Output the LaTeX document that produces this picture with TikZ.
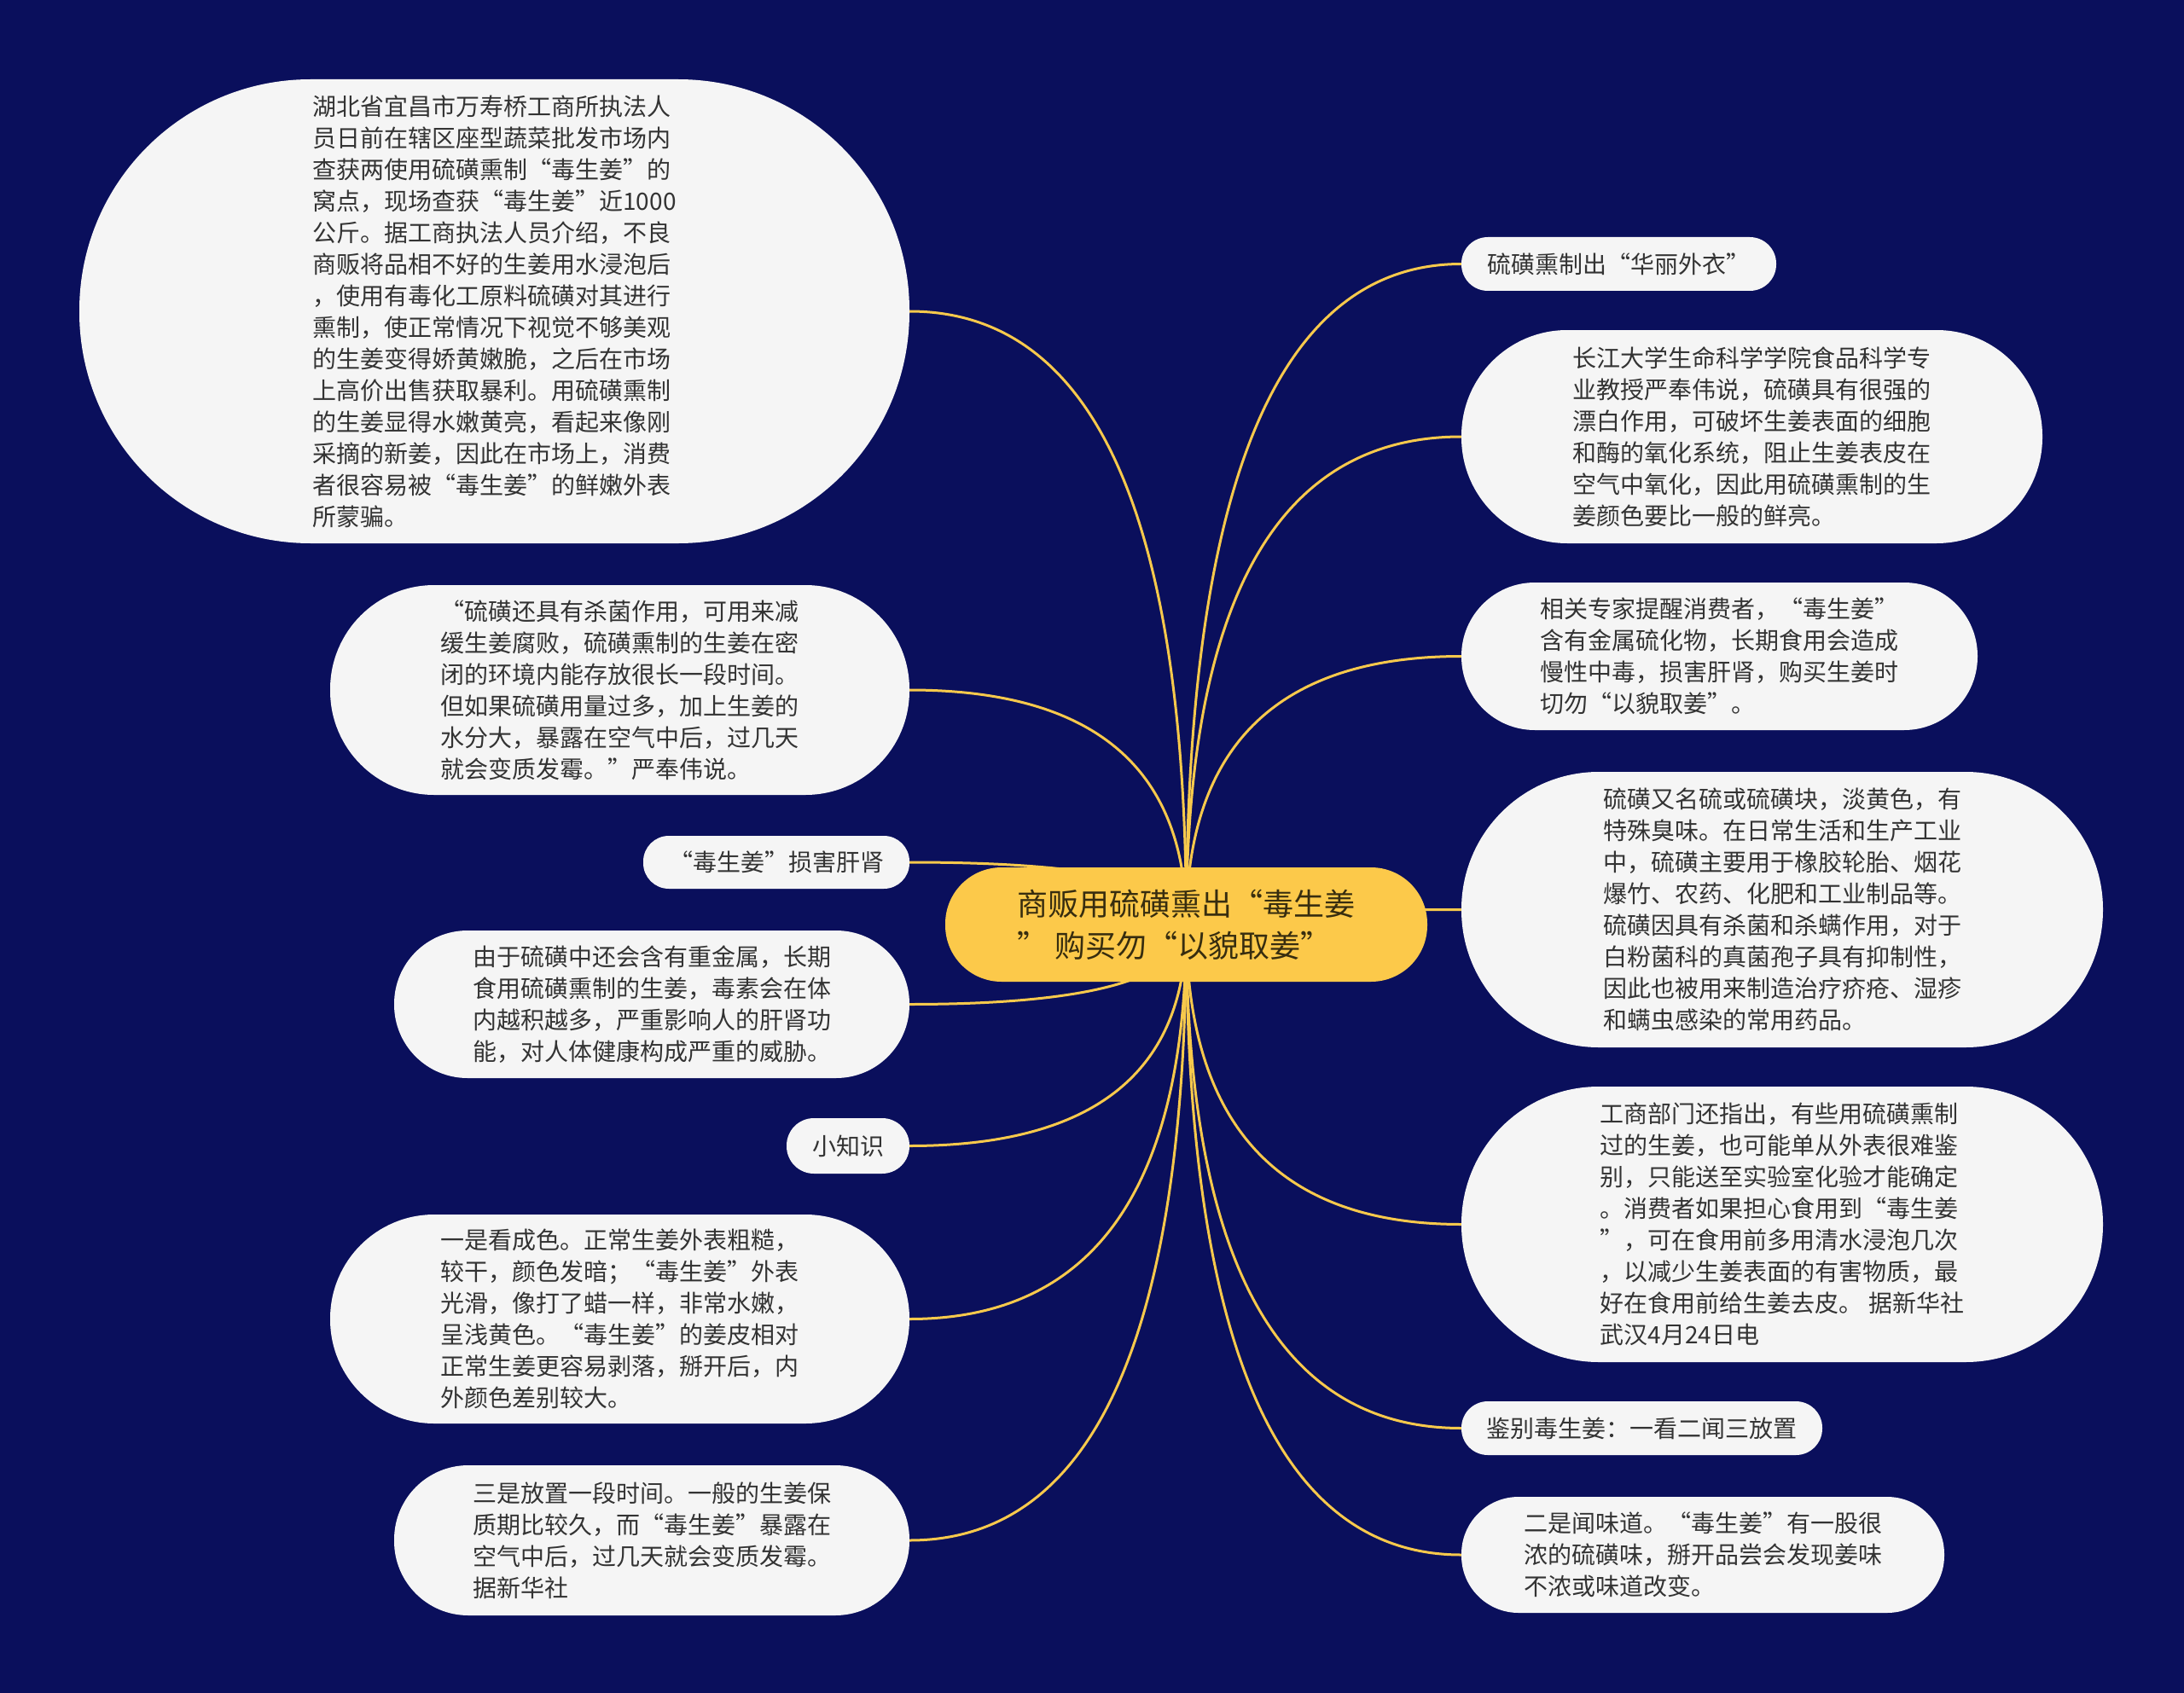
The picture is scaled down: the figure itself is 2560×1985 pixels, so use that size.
\documentclass[tikz,border=0pt]{standalone}
\usepackage{fontspec}
\setmainfont{Noto Sans CJK SC}
\usetikzlibrary{calc}
\pgfdeclarelayer{back}
\pgfdeclarelayer{conn}
\pgfsetlayers{back,conn,main}
\definecolor{bgnavy}{RGB}{10,15,92}
\definecolor{hubfill}{RGB}{252,201,74}
\definecolor{linkcol}{RGB}{247,201,76}
\definecolor{bubfill}{RGB}{245,245,245}
\definecolor{txtcol}{RGB}{51,51,51}
\definecolor{hubtxt}{RGB}{55,45,15}
\tikzset{
  bub/.style={fill=bubfill, text=txtcol, align=left, inner sep=0pt,
    font=\fontsize{28}{37}\selectfont},
  hub/.style={fill=hubfill, text=hubtxt, align=left, inner sep=0pt,
    font=\fontsize{36}{49}\selectfont},
  mmline/.style={draw=linkcol, line width=3pt}
}
\newcommand\mmlink[2]{%
  \coordinate (mmk) at (#1.center |- #2);
  \draw[mmline] (#1.center) .. controls ($(#1.center)!0.667!(mmk)$) and ($(#2)!0.667!(mmk)$) .. (#2);}
\begin{document}
\begin{tikzpicture}[x=1pt,y=-1pt]
\useasboundingbox (0,0) rectangle (2560,1985);
\begin{pgfonlayer}{back}
\fill[bgnavy] (0,0) rectangle (2560,1985);
\end{pgfonlayer}

% centre
\node[hub, minimum width=565pt, minimum height=134pt, rounded corners=66pt] (C) at (1390.5,1084)
 {商贩用硫磺熏出“毒生姜\\” 购买勿“以貌取姜”};

% left
\node[bub, minimum width=973pt, minimum height=544pt, rounded corners=271pt] (L1) at (579.5,365)
 {湖北省宜昌市万寿桥工商所执法人\\员日前在辖区座型蔬菜批发市场内\\查获两使用硫磺熏制“毒生姜”的\\窝点，现场查获“毒生姜”近1000\\公斤。据工商执法人员介绍，不良\\商贩将品相不好的生姜用水浸泡后\\，使用有毒化工原料硫磺对其进行\\熏制，使正常情况下视觉不够美观\\的生姜变得娇黄嫩脆，之后在市场\\上高价出售获取暴利。用硫磺熏制\\的生姜显得水嫩黄亮，看起来像刚\\采摘的新姜，因此在市场上，消费\\者很容易被“毒生姜”的鲜嫩外表\\所蒙骗。};
\node[bub, minimum width=679pt, minimum height=246pt, rounded corners=122pt] (L2) at (726.5,809)
 {“硫磺还具有杀菌作用，可用来减\\缓生姜腐败，硫磺熏制的生姜在密\\闭的环境内能存放很长一段时间。\\但如果硫磺用量过多，加上生姜的\\水分大，暴露在空气中后，过几天\\就会变质发霉。”严奉伟说。};
\node[bub, minimum width=312pt, minimum height=62pt, rounded corners=30pt] (L3) at (910,1011)
 {“毒生姜”损害肝肾};
\node[bub, minimum width=604pt, minimum height=173pt, rounded corners=86pt] (L4) at (764,1177.5)
 {由于硫磺中还会含有重金属，长期\\食用硫磺熏制的生姜，毒素会在体\\内越积越多，严重影响人的肝肾功\\能，对人体健康构成严重的威胁。};
\node[bub, minimum width=144pt, minimum height=65pt, rounded corners=32pt] (L5) at (994,1343.5)
 {小知识};
\node[bub, minimum width=679pt, minimum height=245pt, rounded corners=122pt] (L6) at (726.5,1546.5)
 {一是看成色。正常生姜外表粗糙，\\较干，颜色发暗；“毒生姜”外表\\光滑，像打了蜡一样，非常水嫩，\\呈浅黄色。“毒生姜”的姜皮相对\\正常生姜更容易剥落，掰开后，内\\外颜色差别较大。};
\node[bub, minimum width=604pt, minimum height=176pt, rounded corners=87pt] (L7) at (764,1806)
 {三是放置一段时间。一般的生姜保\\质期比较久，而“毒生姜”暴露在\\空气中后，过几天就会变质发霉。\\据新华社};

% right
\node[bub, minimum width=369pt, minimum height=63pt, rounded corners=31pt] (R1) at (1897.5,309.5)
 {硫磺熏制出“华丽外衣”};
\node[bub, minimum width=681pt, minimum height=250pt, rounded corners=124pt] (R2) at (2053.5,512)
 {长江大学生命科学学院食品科学专\\业教授严奉伟说，硫磺具有很强的\\漂白作用，可破坏生姜表面的细胞\\和酶的氧化系统，阻止生姜表皮在\\空气中氧化，因此用硫磺熏制的生\\姜颜色要比一般的鲜亮。};
\node[bub, minimum width=605pt, minimum height=173pt, rounded corners=86pt] (R3) at (2015.5,769.5)
 {相关专家提醒消费者，“毒生姜”\\含有金属硫化物，长期食用会造成\\慢性中毒，损害肝肾，购买生姜时\\切勿“以貌取姜”。};
\node[bub, minimum width=752pt, minimum height=323pt, rounded corners=161pt] (R4) at (2089,1066.5)
 {硫磺又名硫或硫磺块，淡黄色，有\\特殊臭味。在日常生活和生产工业\\中，硫磺主要用于橡胶轮胎、烟花\\爆竹、农药、化肥和工业制品等。\\硫磺因具有杀菌和杀螨作用，对于\\白粉菌科的真菌孢子具有抑制性，\\因此也被用来制造治疗疥疮、湿疹\\和螨虫感染的常用药品。};
\node[bub, minimum width=752pt, minimum height=323pt, rounded corners=161pt] (R5) at (2089,1435.5)
 {工商部门还指出，有些用硫磺熏制\\过的生姜，也可能单从外表很难鉴\\别，只能送至实验室化验才能确定\\。消费者如果担心食用到“毒生姜\\”，可在食用前多用清水浸泡几次\\，以减少生姜表面的有害物质，最\\好在食用前给生姜去皮。 据新华社\\武汉4月24日电};
\node[bub, minimum width=423pt, minimum height=63pt, rounded corners=31pt] (R6) at (1924.5,1674.5)
 {鉴别毒生姜：一看二闻三放置};
\node[bub, minimum width=566pt, minimum height=136pt, rounded corners=67pt] (R7) at (1996,1823)
 {二是闻味道。“毒生姜”有一股很\\浓的硫磺味，掰开品尝会发现姜味\\不浓或味道改变。};

\begin{pgfonlayer}{conn}
\mmlink{C}{L1.east}
\mmlink{C}{L2.east}
\mmlink{C}{L3.east}
\mmlink{C}{L4.east}
\mmlink{C}{L5.east}
\mmlink{C}{L6.east}
\mmlink{C}{L7.east}
\mmlink{C}{R1.west}
\mmlink{C}{R2.west}
\mmlink{C}{R3.west}
\mmlink{C}{R4.west}
\mmlink{C}{R5.west}
\mmlink{C}{R6.west}
\mmlink{C}{R7.west}
\end{pgfonlayer}
\end{tikzpicture}
\end{document}
